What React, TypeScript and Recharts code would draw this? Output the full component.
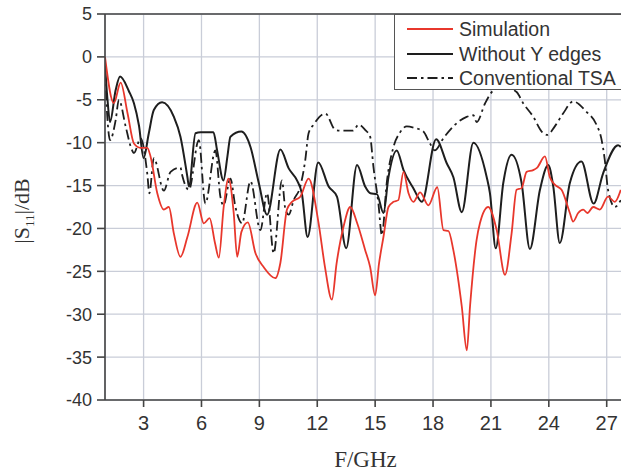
import React from "react";
import {
  LineChart,
  Line,
  XAxis,
  YAxis,
  CartesianGrid,
  ReferenceLine,
} from "recharts";

// ---- Data ----
const xTicks = [3, 6, 9, 12, 15, 18, 21, 24, 27];
const yTicks = [-40, -35, -30, -25, -20, -15, -10, -5, 0, 5];

const simF = [
  1.0, 1.46, 1.81, 2.17, 2.5, 2.84, 3.19, 3.36, 3.71, 4.05, 4.31, 4.57, 4.91,
  5.27, 5.78, 6.12, 6.42, 6.7, 6.9, 7.15, 7.4, 7.67, 7.85, 8.07, 8.4, 8.8,
  9.22, 9.83, 10.09, 10.43, 10.69, 11.12, 11.55, 12.07, 12.4, 12.76, 13.0,
  13.36, 13.71, 14.07, 14.48, 14.74, 15.0, 15.2, 15.43, 15.69, 15.95, 16.2,
  16.47, 16.73, 16.98, 17.33, 17.76, 18.22, 18.54, 18.8, 19.05, 19.49, 19.75,
  19.92, 20.26, 20.43, 20.86, 21.3, 21.73, 22.07, 22.33, 22.59, 22.85, 23.19,
  23.4, 23.8, 24.05, 24.31, 24.66, 25.09, 25.26, 25.52, 25.78, 26.0, 26.3,
  26.64, 27.07, 27.42, 27.73,
];
const simDb = [
  0, -5.4, -3.0, -6.6, -10.1, -10.6, -10.6, -11.6, -15.9, -17.8, -17.5, -20.6,
  -23.3, -21.0, -17.0, -19.4, -18.8, -21.7, -23.4, -17.5, -14.2, -18.2, -23.3,
  -20.4, -19.3, -22.9, -24.5, -25.8, -24.0, -17.8, -16.9, -16.3, -14.2, -19.4,
  -24.5, -28.3, -24.1, -19.8, -17.5, -19.4, -22.5, -24.5, -27.8, -24.1, -21.0,
  -17.5, -16.9, -16.7, -13.4, -15.9, -16.9, -15.8, -17.3, -15.2, -20.2, -20.3,
  -22.5, -29.1, -34.2, -29.0, -21.3, -19.4, -17.5, -20.2, -25.4, -20.6, -15.5,
  -15.3, -13.4, -13.2, -12.9, -11.6, -14.0, -14.9, -15.5, -18.2, -19.2, -18.2,
  -17.8, -18.2, -17.5, -17.8, -16.3, -16.9, -15.5,
];

const noYF = [
  1.0, 1.13, 1.26, 1.55, 1.78, 2.24, 2.5, 2.76, 3.0, 3.27, 3.53, 3.96, 4.57,
  4.91, 5.27, 5.35, 5.69, 5.95, 6.62, 6.81, 7.14, 7.35, 7.5, 8.07, 8.54, 8.97,
  9.4, 10.09, 10.52, 10.95, 11.2, 11.5, 12.05, 12.59, 13.02, 13.5, 14.06,
  14.48, 14.75, 15.09, 15.43, 15.69, 16.12, 16.47, 16.98, 17.42, 18.16, 18.71,
  19.05, 19.49, 20.09, 20.78, 20.95, 21.25, 21.64, 22.07, 22.59, 23.02, 23.54,
  23.97, 24.23, 24.57, 25.09, 25.69, 26.32, 26.81, 27.59, 27.73,
];
const noYDb = [
  -1.0, -5.0, -7.6, -3.9, -2.3, -4.0, -5.4, -8.0, -11.8, -8.9, -6.2, -5.3,
  -7.0, -9.3, -14.0, -15.1, -8.9, -8.8, -8.8, -10.9, -14.4, -11.5, -9.3, -8.7,
  -10.5, -14.7, -18.4, -10.8, -13.0, -14.4, -15.9, -21.0, -12.3, -15.1, -16.3,
  -22.3, -12.6, -15.1, -15.9, -16.0, -18.2, -14.0, -10.9, -13.2, -15.3, -16.9,
  -9.6, -12.4, -14.0, -18.1, -10.0, -14.0, -15.9, -22.3, -14.7, -11.4, -14.7,
  -22.4, -15.5, -12.6, -15.1, -21.7, -14.7, -12.2, -17.1, -13.6, -10.3, -10.5,
];

const tsaF = [
  1.0, 1.12, 1.26, 1.55, 1.72, 2.07, 2.34, 2.5, 2.85, 3.19, 3.3, 3.53, 4.05,
  4.4, 4.91, 5.0, 5.35, 5.86, 6.2, 6.72, 6.98, 7.14, 7.5, 7.76, 8.1, 8.54,
  9.05, 9.4, 9.74, 10.17, 10.35, 10.52, 10.78, 11.12, 11.38, 11.55, 11.81,
  12.42, 12.93, 13.2, 13.86, 14.14, 14.48, 14.74, 14.91, 15.17, 15.35, 15.6,
  15.95, 16.29, 16.64, 17.07, 17.5, 17.84, 18.1, 18.53, 19.14, 19.74, 20.09,
  20.26, 20.7, 21.12, 21.6, 22.33, 22.67, 23.2, 23.63, 23.92, 24.31, 24.74,
  25.26, 25.95, 26.47, 26.72, 26.9, 27.07, 27.42, 27.73,
];
const tsaDb = [
  -1.5, -7.0, -9.7, -7.4, -5.0, -8.1, -10.5, -11.2, -9.5, -13.6, -15.9, -11.8,
  -15.6, -13.4, -12.9, -13.8, -15.5, -9.7, -17.1, -10.9, -16.3, -17.3, -14.2,
  -17.5, -19.4, -14.5, -20.2, -15.9, -22.9, -14.4, -17.8, -18.4, -16.7, -15.1,
  -12.0, -8.9, -7.9, -6.6, -8.5, -8.6, -8.6, -7.9, -8.5, -9.3, -12.8, -17.1,
  -20.8, -14.7, -10.5, -8.8, -8.1, -8.3, -8.7, -10.1, -10.9, -9.5, -7.9, -7.0,
  -6.8, -7.6, -5.4, -3.9, -3.4, -4.1, -5.4, -7.0, -8.7, -9.1, -8.1, -6.6, -5.2,
  -6.4, -7.9, -9.5, -12.0, -15.5, -17.5, -16.7,
];

const seriesNames = ["Simulation", "Without Y edges", "Conventional TSA"];

const simData = simF.map((f, i) => ({ f, v: simDb[i] }));
const noYData = noYF.map((f, i) => ({ f, v: noYDb[i] }));
const tsaData = tsaF.map((f, i) => ({ f, v: tsaDb[i] }));

const RED = "#e8372c";
const BLACK = "#1e1e1e";
const DASH = "10 4 2.5 4";
const SANS = "'Liberation Sans', Arial, sans-serif";
const SERIF = "'Liberation Serif', 'Times New Roman', serif";

const XLabel = (props: any) => {
  const vb = props.viewBox || {};
  return (
    <text
      x={vb.x + vb.width / 2}
      y={vb.y + 67}
      textAnchor="middle"
      fontFamily={SERIF}
      fontSize={23}
      fill="#333"
    >
      F/GHz
    </text>
  );
};

const YLabel = (props: any) => {
  const vb = props.viewBox || {};
  const cx = 29;
  const cy = vb.y + vb.height / 2 + 4;
  return (
    <text
      x={cx}
      y={cy}
      textAnchor="middle"
      fontFamily={SERIF}
      fontSize={22}
      fill="#333"
      transform={`rotate(-90, ${cx}, ${cy})`}
    >
      <tspan>|S</tspan>
      <tspan fontSize={13} dy={5}>11</tspan>
      <tspan dy={-5}>|/dB</tspan>
    </text>
  );
};

const legendStyles = [
  { stroke: RED, dash: undefined, width: 1.8 },
  { stroke: BLACK, dash: undefined, width: 2.2 },
  { stroke: BLACK, dash: DASH, width: 2 },
];

const LegendBox = () => (
  <div
    style={{
      position: "absolute",
      left: 394,
      top: 14,
      background: "#fff",
      border: "1px solid #555",
      width: 250,
      height: 76,
      boxSizing: "border-box",
      paddingTop: 2,
    }}
  >
    {seriesNames.map((name, i) => (
      <div
        key={name}
        style={{
          display: "flex",
          alignItems: "center",
          height: 24.5,
          paddingLeft: 12,
        }}
      >
        <svg width={46} height={6} style={{ marginRight: 6 }}>
          <line
            x1={0}
            y1={3}
            x2={46}
            y2={3}
            stroke={legendStyles[i].stroke}
            strokeWidth={legendStyles[i].width}
            strokeDasharray={legendStyles[i].dash}
          />
        </svg>
        <span
          style={{
            fontFamily: SANS,
            fontSize: 19.5,
            color: "#333",
            whiteSpace: "nowrap",
            lineHeight: "20px",
          }}
        >
          {name}
        </span>
      </div>
    ))}
  </div>
);

export default function App() {
  return (
    <div
      style={{
        position: "absolute",
        left: 0,
        top: 0,
        width: 621,
        height: 472,
        overflow: "hidden",
        background: "#fff",
      }}
    >
      <LineChart
        width={640}
        height={472}
        margin={{ top: 14, right: 14, bottom: 0, left: 0 }}
      >
        <CartesianGrid stroke="#c9cdd8" strokeWidth={1.3} />
        <XAxis
          dataKey="f"
          type="number"
          domain={[1, 28]}
          ticks={xTicks}
          allowDataOverflow
          height={72}
          tickSize={7}
          tickMargin={9}
          stroke="#444"
          strokeWidth={1.6}
          tick={{ fontFamily: SANS, fontSize: 20, fill: "#333" }}
          label={<XLabel />}
        />
        <YAxis
          type="number"
          domain={[-40, 5]}
          ticks={yTicks}
          allowDataOverflow
          width={105}
          tickSize={8}
          tickMargin={5}
          stroke="#444"
          strokeWidth={1.6}
          tick={{ fontFamily: SANS, fontSize: 18, fill: "#333" }}
          label={<YLabel />}
        />
        <ReferenceLine y={5} stroke="#444" strokeWidth={1.6} />
        <ReferenceLine x={28} stroke="#444" strokeWidth={1.6} />
        <Line
          data={tsaData}
          dataKey="v"
          name={seriesNames[2]}
          type="monotone"
          stroke={BLACK}
          strokeWidth={1.8}
          strokeDasharray={DASH}
          dot={false}
          isAnimationActive={false}
        />
        <Line
          data={noYData}
          dataKey="v"
          name={seriesNames[1]}
          type="monotone"
          stroke={BLACK}
          strokeWidth={2}
          dot={false}
          isAnimationActive={false}
        />
        <Line
          data={simData}
          dataKey="v"
          name={seriesNames[0]}
          type="monotone"
          stroke={RED}
          strokeWidth={1.8}
          dot={false}
          isAnimationActive={false}
        />
      </LineChart>
      <LegendBox />
    </div>
  );
}
